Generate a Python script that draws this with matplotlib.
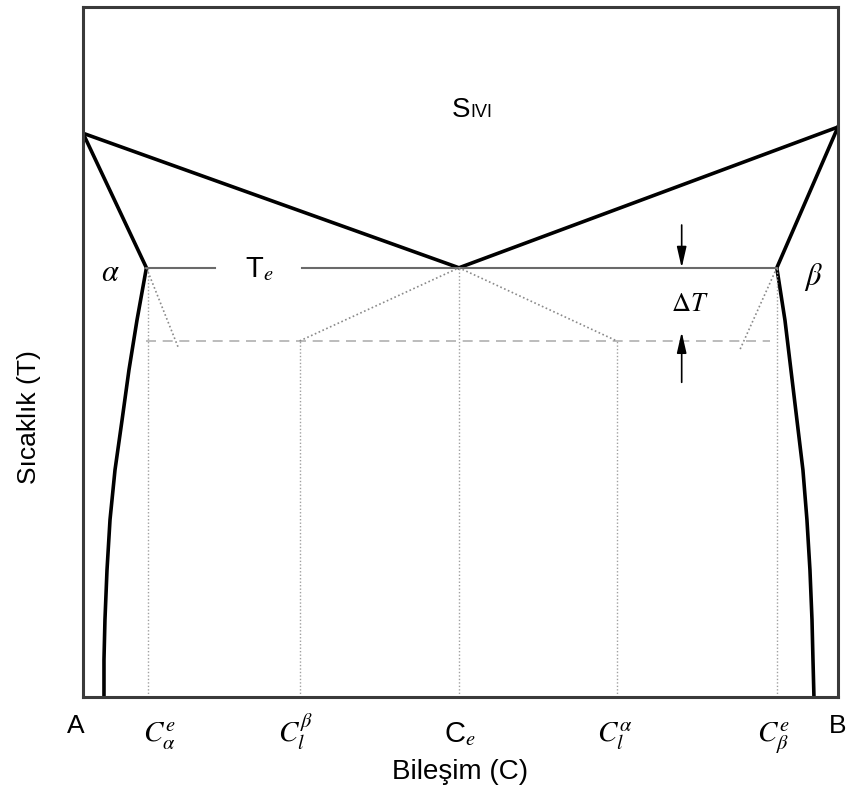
import matplotlib
matplotlib.use("Agg")
import matplotlib.pyplot as plt

plt.rcParams['font.family'] = ['Liberation Sans', 'DejaVu Sans']
plt.rcParams['mathtext.fontset'] = 'stix'

# composition (0-100) and temperature (0-100) of the key points
melt_A = (0.0, 81.7)
melt_B = (100.0, 82.6)
eutectic = (49.8, 62.2)
alpha_max = (8.4, 62.2)
beta_max = (91.9, 62.2)
undercooled_T = 51.6
cl_beta = 28.7
cl_alpha = 70.7
alpha_meta_end = (12.6, 50.7)
beta_meta_end = (87.0, 50.3)

# solvus curves
solvus_a_x = [8.4, 7.15, 6.09, 5.17, 4.24, 3.58, 3.18, 2.91, 2.78, 2.78]
solvus_a_y = [62.2, 54.6, 47.4, 40.1, 32.9, 25.7, 18.4, 11.2, 5.4, 0.0]
solvus_b_x = [91.9, 92.98, 93.77, 94.57, 95.36, 95.89, 96.29, 96.56, 96.69, 96.82]
solvus_b_y = [62.2, 54.6, 47.4, 40.1, 32.9, 25.7, 18.4, 11.2, 5.4, 0.0]

# axis labels under the frame
end_labels = ['A', 'B']
end_label_x = [-0.9, 99.9]
comp_labels = [r'$C_\alpha^e$', r'$C_l^\beta$', r'C$_e$', r'$C_l^\alpha$', r'$C_\beta^e$']
comp_label_x = [10.1, 28.1, 49.9, 70.5, 91.4]

fig = plt.figure(figsize=(8.46, 7.92), dpi=100)
ax = fig.add_axes([0.0981, 0.12, 0.8924, 0.8712])
ax.set_xlim(0, 100)
ax.set_ylim(0, 100)

# liquidus
ax.plot([melt_A[0], eutectic[0], melt_B[0]], [melt_A[1], eutectic[1], melt_B[1]],
        color='black', lw=2.6, solid_joinstyle='miter')
# solidus + solvus
ax.plot([melt_A[0]] + solvus_a_x, [melt_A[1]] + solvus_a_y, color='black', lw=2.6)
ax.plot([melt_B[0]] + solvus_b_x, [melt_B[1]] + solvus_b_y, color='black', lw=2.6)

# eutectic isotherm with a gap for the label
ax.plot([alpha_max[0], 17.5], [eutectic[1]] * 2, color='#6a6a6a', lw=1.5)
ax.plot([29.0, beta_max[0]], [eutectic[1]] * 2, color='#6a6a6a', lw=1.5)

# undercooled temperature
ax.plot([8.4, 91.0], [undercooled_T] * 2, color='#b0b0b0', lw=1.2, ls=(0, (6, 4)))

# metastable extensions
dot = dict(color='#8a8a8a', lw=1.2, ls=(0, (1, 1.5)))
ax.plot([alpha_max[0], alpha_meta_end[0]], [alpha_max[1], alpha_meta_end[1]], **dot)
ax.plot([beta_max[0], beta_meta_end[0]], [beta_max[1], beta_meta_end[1]], **dot)
ax.plot([cl_beta, eutectic[0], cl_alpha], [undercooled_T, eutectic[1], undercooled_T], **dot)

# composition drop lines
for xv, yv in [(alpha_max[0] + 0.2, eutectic[1]), (cl_beta, undercooled_T), (eutectic[0], eutectic[1]),
               (cl_alpha, undercooled_T), (beta_max[0], eutectic[1])]:
    ax.plot([xv, xv], [0, yv], color='#a0a0a0', lw=1.0, ls=(0, (1, 1.5)))

# delta T arrows
arrow = dict(arrowstyle='-|>,head_length=0.7,head_width=0.16', color='black', lw=1.2,
             mutation_scale=18, shrinkA=0, shrinkB=0)
ax.annotate('', xy=(79.3, eutectic[1]), xytext=(79.3, 68.4), arrowprops=arrow)
ax.annotate('', xy=(79.3, 52.9), xytext=(79.3, 45.6), arrowprops=arrow)

# labels inside the diagram
ax.text(51.3, 84.1, 'S', fontsize=20, ha='right', va='baseline')
ax.text(51.3, 84.1, 'IVI', fontsize=13, ha='left', va='baseline')
ax.text(21.5, 60.9, r'T$_e$', fontsize=21, ha='left', va='baseline')
ax.text(3.6, 61.4, r'$\alpha$', fontsize=22, ha='center', va='center')
ax.text(96.7, 60.8, r'$\beta$', fontsize=22, ha='center', va='center')
ax.text(80.4, 57.0, r'$\Delta T$', fontsize=19, ha='center', va='center')

ax.set_xticks([])
ax.set_yticks([])
xt = ax.get_xaxis_transform()
for xv, lab in zip(end_label_x, end_labels):
    ax.text(xv, -0.052, lab, fontsize=19, ha='center', va='baseline', transform=xt, clip_on=False)
for xv, lab in zip(comp_label_x, comp_labels):
    ax.text(xv, -0.065, lab, fontsize=21, ha='center', va='baseline', transform=xt, clip_on=False)

ax.text(0.5, -0.1087, 'Bileşim (C)', fontsize=20, ha='center', va='center',
        transform=ax.transAxes)
ax.text(-0.072, 0.406, 'Sıcaklık (T)', fontsize=19, ha='center', va='center',
        rotation=90, transform=ax.transAxes)

for s in ax.spines.values():
    s.set_linewidth(2.2)
    s.set_color('#3a3a3a')

fig.savefig('out.png', dpi=100)
